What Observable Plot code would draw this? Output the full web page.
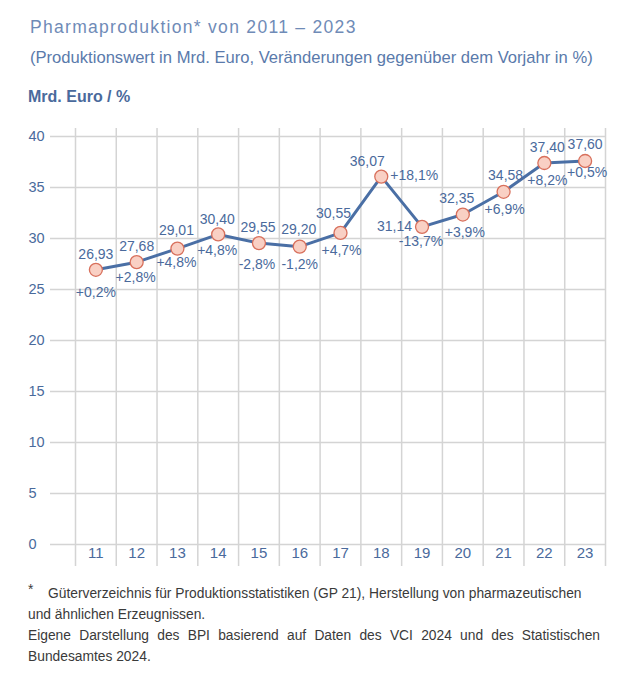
<!DOCTYPE html>
<html>
<head>
<meta charset="utf-8">
<script src="https://cdn.jsdelivr.net/npm/d3@7"></script>
<script src="https://cdn.jsdelivr.net/npm/@observablehq/plot@0.6"></script>
<style>
  html, body { margin: 0; padding: 0; background: #fff; }
  body { width: 630px; height: 691px; position: relative; overflow: hidden; font-family: "Liberation Sans", Arial, sans-serif; }
  .abs { position: absolute; white-space: nowrap; }
  #title { left: 30px; top: 17px; font-size: 17.5px; letter-spacing: 1.3px; color: #6f8bb7; }
  #subtitle { left: 30px; top: 48px; font-size: 16.6px; color: #5a7aab; }
  #unit { left: 28px; top: 88px; font-size: 16px; font-weight: bold; color: #4a6a9c; }
  #chart { position: absolute; left: 0; top: 110px; }
  .fn { position: absolute; left: 28px; font-size: 13.8px; color: #3a3a3a; white-space: nowrap; }
  .star { position: absolute; left: 28px; font-size: 13.8px; color: #3a3a3a; }
  .just { width: 572px; text-align: justify; text-align-last: justify; white-space: normal; }
</style>
</head>
<body>
<div id="title" class="abs">Pharmaproduktion* von 2011 – 2023</div>
<div id="subtitle" class="abs">(Produktionswert in Mrd. Euro, Veränderungen gegenüber dem Vorjahr in %)</div>
<div id="unit" class="abs">Mrd. Euro / %</div>
<div id="chart"></div>
<div class="star" style="top:582px;">*</div>
<div class="fn" style="top:586px; left:48px;">Güterverzeichnis für Produktionsstatistiken (GP 21), Herstellung von pharmazeutischen</div>
<div class="fn" style="top:607px;">und ähnlichen Erzeugnissen.</div>
<div class="fn just" style="top:628px;">Eigene Darstellung des BPI basierend auf Daten des VCI 2024 und des Statistischen</div>
<div class="fn" style="top:649px;">Bundesamtes 2024.</div>
<script>
// ---- data ----
const years = [2011, 2012, 2013, 2014, 2015, 2016, 2017, 2018, 2019, 2020, 2021, 2022, 2023];
const yearLabels = ["11", "12", "13", "14", "15", "16", "17", "18", "19", "20", "21", "22", "23"];
const values = [26.93, 27.68, 29.01, 30.40, 29.55, 29.20, 30.55, 36.07, 31.14, 32.35, 34.58, 37.40, 37.60];
const changes = [0.2, 2.8, 4.8, 4.8, -2.8, -1.2, 4.7, 18.1, -13.7, 3.9, 6.9, 8.2, 0.5];
const yTicks = [0, 5, 10, 15, 20, 25, 30, 35, 40];

// ---- label layout (pixel offsets, separate from data) ----
const valueLabelLayout = [
  {dx: 0, dy: -15, anchor: "middle"}, {dx: 0, dy: -16, anchor: "middle"}, {dx: -1, dy: -18, anchor: "middle"},
  {dx: -1, dy: -15, anchor: "middle"}, {dx: -1, dy: -16, anchor: "middle"}, {dx: -1, dy: -17, anchor: "middle"},
  {dx: -7, dy: -19, anchor: "middle"}, {dx: -14, dy: -15, anchor: "middle"}, {dx: -10, dy: 0, anchor: "end"},
  {dx: -6, dy: -16, anchor: "middle"}, {dx: 2, dy: -16, anchor: "middle"}, {dx: 3, dy: -16, anchor: "middle"},
  {dx: 0, dy: -16, anchor: "middle"}
];
const changeLabelLayout = [
  {dx: 0, dy: 23, anchor: "middle"}, {dx: -1, dy: 15, anchor: "middle"}, {dx: -1, dy: 14, anchor: "middle"},
  {dx: -1, dy: 16, anchor: "middle"}, {dx: -2, dy: 21, anchor: "middle"}, {dx: 0, dy: 18, anchor: "middle"},
  {dx: 1, dy: 18, anchor: "middle"}, {dx: 9, dy: -1, anchor: "start"}, {dx: -1, dy: 15, anchor: "middle"},
  {dx: 2, dy: 18, anchor: "middle"}, {dx: 1, dy: 18, anchor: "middle"}, {dx: 3, dy: 17, anchor: "middle"},
  {dx: 2, dy: 12, anchor: "middle"}
];

const data = years.map((y, i) => ({year: y, value: values[i], change: changes[i], label: yearLabels[i]}));
const fmtValue = v => v.toFixed(2).replace(".", ",");
const fmtChange = v => (v > 0 ? "+" : v < 0 ? "-" : "") + Math.abs(v).toFixed(1).replace(".", ",") + "%";
const boundaries = years.map(y => y - 0.5).concat([years[years.length - 1] + 0.5]);

const textColor = "#4a6a9c";
const gridColor = "#d4d4d4";

const labelMarks = [];
data.forEach((d, i) => {
  const v = valueLabelLayout[i], c = changeLabelLayout[i];
  labelMarks.push(Plot.text([d], {x: "year", y: "value", text: dd => fmtValue(dd.value), dx: v.dx, dy: v.dy, textAnchor: v.anchor, fill: textColor, fontSize: 14}));
  labelMarks.push(Plot.text([d], {x: "year", y: "value", text: dd => fmtChange(dd.change), dx: c.dx, dy: c.dy, textAnchor: c.anchor, fill: textColor, fontSize: 14}));
});

const chart = Plot.plot({
  width: 630,
  height: 470,
  marginLeft: 75,
  marginRight: 25,
  marginTop: 26,
  marginBottom: 36,
  style: {fontFamily: "'Liberation Sans', Arial, sans-serif", background: "transparent", overflow: "visible"},
  x: {domain: [boundaries[0], boundaries[boundaries.length - 1]], axis: null},
  y: {domain: [0, 40], axis: null},
  marks: [
    Plot.ruleY(yTicks, {stroke: gridColor, strokeWidth: 1.5, insetLeft: -25}),
    Plot.ruleX(boundaries, {stroke: gridColor, strokeWidth: 1.5, insetTop: -8, insetBottom: -22}),
    Plot.text(yTicks, {y: d => d, frameAnchor: "left", dx: -47, textAnchor: "start", fill: textColor, fontSize: 14.5}),
    Plot.text(data, {x: "year", frameAnchor: "bottom", dy: 13, text: "label", fill: textColor, fontSize: 15}),
    Plot.line(data, {x: "year", y: "value", stroke: "#4a6fa5", strokeWidth: 3}),
    Plot.dot(data, {x: "year", y: "value", r: 6.5, fill: "#f9d0c4", stroke: "#d8705c", strokeWidth: 1.3}),
    ...labelMarks
  ]
});
document.getElementById("chart").appendChild(chart);
</script>
</body>
</html>
